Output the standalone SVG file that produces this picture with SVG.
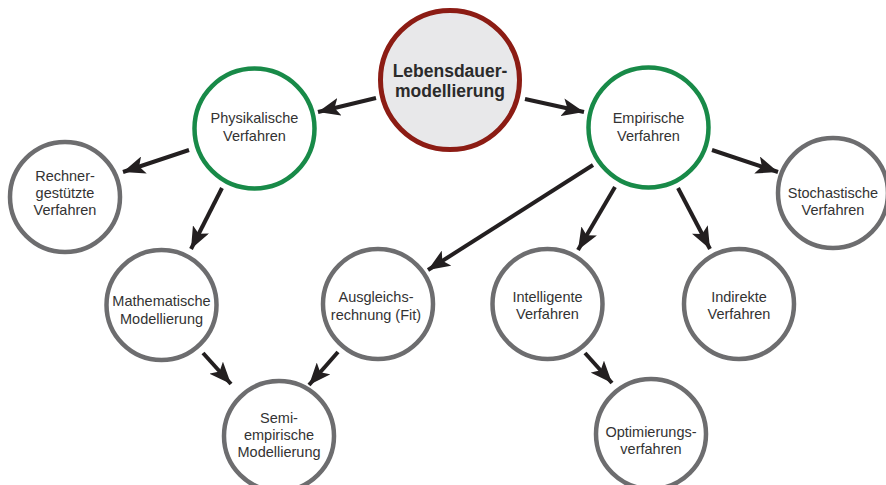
<svg xmlns="http://www.w3.org/2000/svg" width="886" height="485" viewBox="0 0 886 485">
<defs>
<marker id="ah" markerUnits="userSpaceOnUse" markerWidth="24" markerHeight="18" refX="22" refY="9" orient="auto">
<path d="M0,0 L22,9 L0,18 L5,9 Z" fill="#231f20"/>
</marker>
</defs>
<style>
.n{fill:#fff;stroke:#6d6d6f;stroke-width:4.5}
.g{fill:#fff;stroke:#188a48;stroke-width:4.5}
.r{fill:#e8e8ea;stroke:#8c1c14;stroke-width:5}
text{font-family:"Liberation Sans",Arial,sans-serif;font-size:14.5px;fill:#333;text-anchor:middle}
.b{font-size:17.5px;font-weight:bold;fill:#2b2b2b}
.c line{stroke:#231f20;stroke-width:4;marker-end:url(#ah)}
</style>
<rect width="886" height="485" fill="#fff"/>
<g class="c" id="connectors">
<line x1="376" y1="98" x2="318" y2="112"/>
<line x1="525" y1="99" x2="584" y2="112"/>
<line x1="189" y1="150" x2="123" y2="172"/>
<line x1="222" y1="188" x2="191" y2="249"/>
<line x1="593" y1="165" x2="428" y2="270"/>
<line x1="615" y1="187" x2="578" y2="250"/>
<line x1="678" y1="188" x2="710" y2="249"/>
<line x1="712" y1="150" x2="778" y2="172"/>
<line x1="203" y1="353" x2="231" y2="384"/>
<line x1="338" y1="352" x2="309" y2="385"/>
<line x1="585" y1="353" x2="612" y2="383"/>
</g>
<g id="leben"><circle class="r" cx="450" cy="80" r="69.5"/><text class="b" x="450" y="77">Lebensdauer-</text><text class="b" x="450" y="97">modellierung</text></g>
<g id="phys"><circle class="g" cx="254.5" cy="128.5" r="60"/><text x="254.5" y="123">Physikalische</text><text x="254.5" y="141">Verfahren</text></g>
<g id="emp"><circle class="g" cx="648.5" cy="127.5" r="60"/><text x="648.5" y="123">Empirische</text><text x="648.5" y="141">Verfahren</text></g>
<g id="rechner"><circle class="n" cx="65" cy="197" r="55"/><text x="65" y="181">Rechner-</text><text x="65" y="198">gestützte</text><text x="65" y="215">Verfahren</text></g>
<g id="stoch"><circle class="n" cx="833" cy="193" r="55"/><text x="833" y="198">Stochastische</text><text x="833" y="215">Verfahren</text></g>
<g id="math"><circle class="n" cx="161.5" cy="305" r="55"/><text x="161.5" y="306">Mathematische</text><text x="161.5" y="324">Modellierung</text></g>
<g id="ausg"><circle class="n" cx="378" cy="304" r="55"/><text x="376" y="302">Ausgleichs-</text><text x="376" y="320">rechnung (Fit)</text></g>
<g id="intell"><circle class="n" cx="547.5" cy="304" r="55"/><text x="547.5" y="302">Intelligente</text><text x="547.5" y="319">Verfahren</text></g>
<g id="indir"><circle class="n" cx="739" cy="304" r="55"/><text x="739" y="302">Indirekte</text><text x="739" y="319">Verfahren</text></g>
<g id="semi"><circle class="n" cx="279" cy="436" r="55"/><text x="279" y="423">Semi-</text><text x="279" y="440">empirische</text><text x="279" y="457">Modellierung</text></g>
<g id="opt"><circle class="n" cx="651" cy="434" r="55"/><text x="651" y="437">Optimierungs-</text><text x="651" y="454">verfahren</text></g>
</svg>
